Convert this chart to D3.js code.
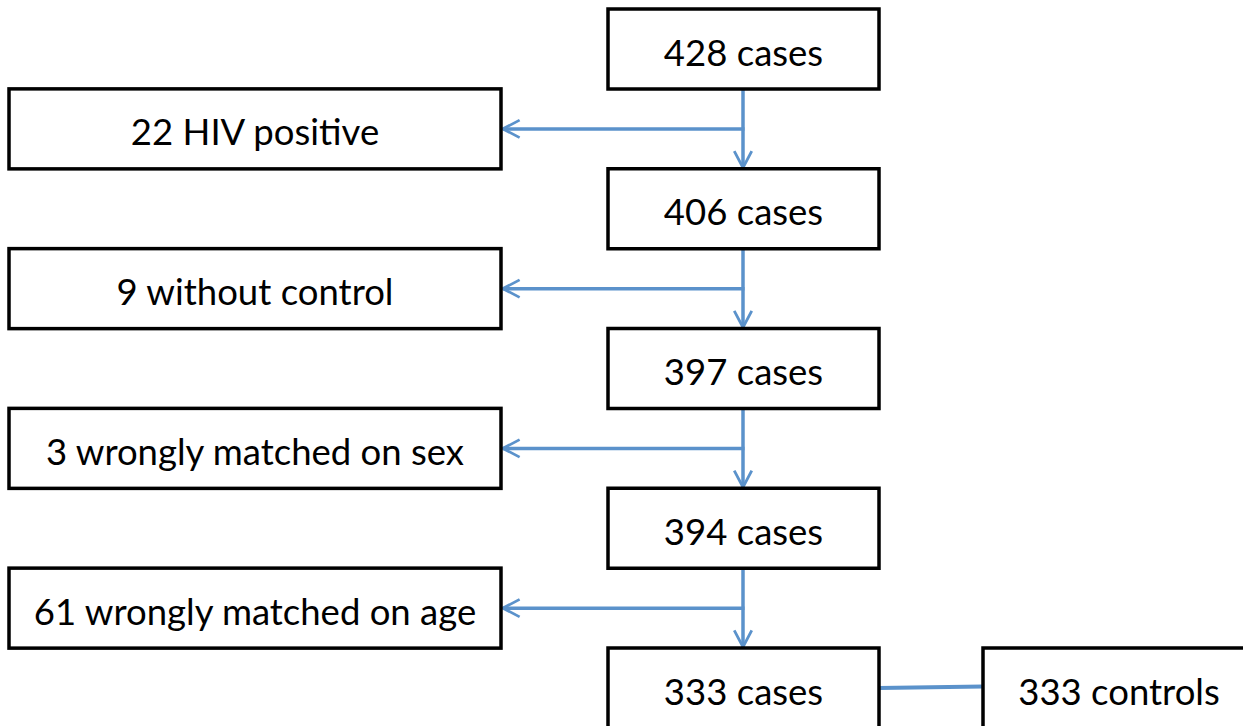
<!DOCTYPE html>
<head>
	<meta charset="utf-8">
	<script src="https://d3js.org/d3.v7.min.js"></script>
	<style>
		body { margin: 0; background: #fff; }
		text { font-family: Lato, "Open Sans", sans-serif; font-size: 36.5px; fill: #000; }
	</style>
</head>
<body>
	<svg id="flow" width="1243" height="726"></svg>
	<script>

	// flow data
	var caseCounts = [428, 406, 397, 394, 333];
	var exclusions = ["22 HIV positive", "9 without control", "3 wrongly matched on sex", "61 wrongly matched on age"];
	var controlLabel = "333 controls";

	var svg = d3.select("#flow");
	var blue = "#5b92cb";

	// step scale: main boxes sit on whole steps, exclusions on half steps
	var y = d3.scaleLinear().domain([0, 4]).range([9, 648]);
	var boxH = 80;
	var mainX = 608, mainW = 271;
	var leftX = 9, leftW = 492;
	var midX = mainX + mainW / 2 - 0.5;

	// open arrow head
	svg.append("defs").append("marker")
		.attr("id", "head")
		.attr("viewBox", "0 0 12 12")
		.attr("refX", 10.5).attr("refY", 6)
		.attr("markerWidth", 6).attr("markerHeight", 6)
		.attr("orient", "auto")
		.append("path")
		.attr("d", "M1,1 L10.5,6 L1,11")
		.attr("fill", "none")
		.attr("stroke", blue)
		.attr("stroke-width", 1.6);

	// connectors
	var links = svg.append("g");
	d3.range(caseCounts.length - 1).forEach(function(i) {
		links.append("line")
			.attr("x1", midX).attr("y1", y(i) + boxH)
			.attr("x2", midX).attr("y2", y(i + 1) - 1)
			.attr("stroke", blue).attr("stroke-width", 3.5)
			.attr("marker-end", "url(#head)");
		links.append("line")
			.attr("x1", midX + 1.5).attr("y1", y(i + 0.5) + boxH / 2)
			.attr("x2", leftX + leftW + 2).attr("y2", y(i + 0.5) + boxH / 2)
			.attr("stroke", blue).attr("stroke-width", 3.5)
			.attr("marker-end", "url(#head)");
	});
	var last = caseCounts.length - 1;
	links.append("line")
		.attr("x1", mainX + mainW).attr("y1", y(last) + boxH / 2)
		.attr("x2", 983).attr("y2", y(last) + boxH / 2 - 1.5)
		.attr("stroke", blue).attr("stroke-width", 4);

	function box(g, x, yy, w, label, cx) {
		g.append("rect")
			.attr("x", x).attr("y", yy)
			.attr("width", w).attr("height", boxH)
			.attr("fill", "#fff")
			.attr("stroke", "#000")
			.attr("stroke-width", 3.5);
		g.append("text")
			.attr("x", cx == null ? x + w / 2 : cx).attr("y", yy + boxH / 2 + 16.5)
			.attr("text-anchor", "middle")
			.text(label);
	}

	var boxes = svg.append("g");
	caseCounts.forEach(function(d, i) {
		box(boxes, mainX, y(i), mainW, d + " cases");
	});
	exclusions.forEach(function(d, i) {
		box(boxes, leftX, y(i + 0.5), leftW, d);
	});
	// control box runs off the right edge, label centred as in the original
	box(boxes, 983, y(last), 280, controlLabel, 1119);

</script>
</body>
</html>
